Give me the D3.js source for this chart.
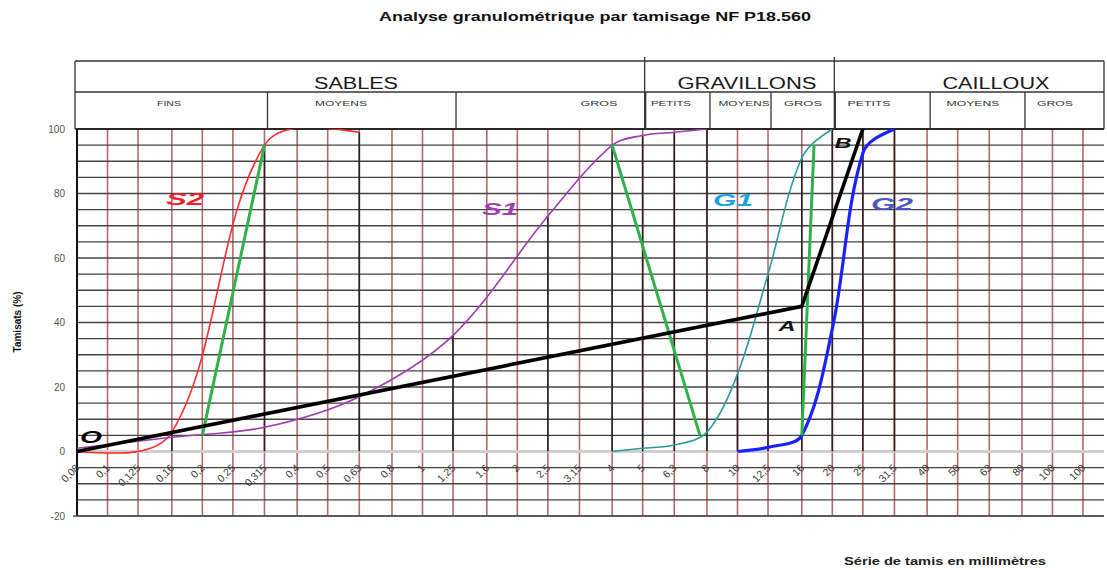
<!DOCTYPE html>
<html>
<head>
<meta charset="utf-8">
<script src="https://cdn.jsdelivr.net/npm/d3@7"></script>
<style>
  body { margin: 0; background: #fff; }
  svg { display: block; font-family: "Liberation Sans", Arial, sans-serif; }
</style>
</head>
<body>
<svg id="chart" width="1107" height="570"></svg>
<script>
// Sieve series (mm) and the labels printed under each sieve
const sieveSizes = [0.08, 0.1, 0.125, 0.16, 0.2, 0.25, 0.315, 0.4, 0.5, 0.63, 0.8, 1, 1.25, 1.6, 2, 2.5, 3.15, 4, 5, 6.3, 8, 10, 12.5, 16, 20, 25, 31.5, 40, 50, 63, 80, 100, 125];
const sieveLabels = ["0,08", "0,1", "0,125", "0,16", "0,2", "0,25", "0,315", "0,4", "0,5", "0,63", "0,8", "1", "1,25", "1,6", "2", "2,5", "3,15", "4", "5", "6,3", "8", "10", "12,5", "16", "20", "25", "31,5", "40", "50", "63", "80", "100", "100"];
const yTicks = [-20, 0, 20, 40, 60, 80, 100];

// Passing percentages (tamisats, %) per sieve for each aggregate
const sableS2 = [[0.08, 0], [0.16, 6], [0.315, 95], [0.63, 99]];
const sableS1 = [[0.08, 1], [0.16, 4.4], [0.315, 7.5], [0.63, 17], [1.25, 36], [2.5, 73], [4, 95], [5, 98], [6.3, 99], [8, 100]];
const gravierG1 = [[4, 0], [5, 1], [6.3, 2], [8, 6], [10, 24], [12.5, 55], [16, 91], [20, 100]];
const gravierG2 = [[10, 0], [12.5, 1.3], [16, 5], [20, 38], [25, 92.5], [31.5, 100]];

// Reference grading curve O - A - B
const referenceOAB = [[0.08, 0], [16, 45], [25, 100]];
// Dreux-Gorisse separation lines (95 % of one aggregate to 5 % of the next)
const separationLines = [
  [[0.2, 5], [0.315, 95]],
  [[4, 95], [7.6, 5]],
  [[16, 5], [17.5, 95]]
];

// Header classes: names and sieve limits (mm)
const classNames = ["SABLES", "GRAVILLONS", "CAILLOUX"];
const classLimits = [[0.08, 5], [5, 20], [20, 125]];
const subClassNames = ["FINS", "MOYENS", "GROS", "PETITS", "MOYENS", "GROS", "PETITS", "MOYENS", "GROS"];
const subClassLimits = [[0.08, 0.315], [0.315, 1.25], [1.25, 5], [5, 8], [8, 12.5], [12.5, 20], [20, 40], [40, 80], [80, 125]];

const svg = d3.select("#chart");
const plotLeft = 77, plotRight = 1104;
const x = d3.scaleLog().domain([sieveSizes[0], sieveSizes[sieveSizes.length - 1]]).range([77, 1083]);
const y = d3.scaleLinear().domain([-20, 100]).range([516, 129]);

// header box geometry
const headTop = 61, headMid = 92;
const hx = v => (v === 125 ? plotRight : x(v));

// ---------- grid ----------
const grid = svg.append("g");
grid.selectAll("line.v").data(sieveSizes).join("line")
  .attr("x1", d => x(d)).attr("x2", d => x(d))
  .attr("y1", y(100)).attr("y2", y(-20))
  .attr("stroke", "#b8686a").attr("stroke-width", 1.6);

grid.selectAll("line.h").data(d3.range(-20, 101, 5)).join("line")
  .attr("x1", plotLeft).attr("x2", plotRight)
  .attr("y1", d => y(d)).attr("y2", d => y(d))
  .attr("stroke", d => d === 0 ? "#cfcfcf" : "#444")
  .attr("stroke-width", d => d === 0 ? 3 : 1.4);

// drop lines from the highest passing value on each tested sieve
const allSeries = [sableS2, sableS1, gravierG1, gravierG2, referenceOAB];
const dropTop = d3.rollups(allSeries.flat(), v => d3.max(v, p => p[1]), p => p[0]);
grid.selectAll("line.drop").data(dropTop).join("line")
  .attr("x1", d => x(d[0])).attr("x2", d => x(d[0]))
  .attr("y1", y(0)).attr("y2", d => y(d[1]))
  .attr("stroke", "#2b2222").attr("stroke-width", 1.6);

// axes frame
grid.append("line").attr("x1", plotLeft).attr("x2", plotLeft).attr("y1", y(100)).attr("y2", y(-20))
  .attr("stroke", "#111").attr("stroke-width", 2);
grid.append("line").attr("x1", plotLeft - 2).attr("x2", plotRight).attr("y1", y(100)).attr("y2", y(100))
  .attr("stroke", "#111").attr("stroke-width", 1.6);
grid.append("line").attr("x1", plotLeft - 4).attr("x2", plotRight).attr("y1", y(-20)).attr("y2", y(-20))
  .attr("stroke", "#555").attr("stroke-width", 1.6);

// ---------- header ----------
const head = svg.append("g").attr("stroke", "#333").attr("stroke-width", 1.3);
head.append("line").attr("x1", 75).attr("x2", plotRight).attr("y1", headTop).attr("y2", headTop);
head.append("line").attr("x1", 75).attr("x2", plotRight).attr("y1", headMid).attr("y2", headMid);
head.append("line").attr("x1", 75).attr("x2", 75).attr("y1", headTop).attr("y2", y(100));
head.append("line").attr("x1", plotRight).attr("x2", plotRight).attr("y1", headTop).attr("y2", y(100));
head.selectAll("line.cls").data(classLimits.slice(1)).join("line")
  .attr("x1", d => hx(d[0]) + 2).attr("x2", d => hx(d[0]) + 2)
  .attr("y1", headTop - 4).attr("y2", y(100));
head.selectAll("line.sub").data(subClassLimits.slice(1)).join("line")
  .attr("x1", d => hx(d[0]) + 3).attr("x2", d => hx(d[0]) + 3)
  .attr("y1", headMid).attr("y2", y(100));

function stretchedText(g, str, cx, base, size, width, opts = {}) {
  return g.append("text")
    .attr("x", cx).attr("y", base)
    .attr("text-anchor", opts.anchor || "middle")
    .attr("font-size", size)
    .attr("font-weight", opts.weight || "normal")
    .attr("font-style", opts.style || "normal")
    .attr("fill", opts.fill || "#111")
    .attr("textLength", width)
    .attr("lengthAdjust", "spacingAndGlyphs")
    .text(str);
}

const headText = svg.append("g");
const classLayout = [{ cx: 356, w: 84 }, { cx: 747, w: 139 }, { cx: 996, w: 107 }];
classNames.forEach((n, i) => stretchedText(headText, n, classLayout[i].cx, 89, 16, classLayout[i].w, { fill: "#1a1a1a" }));
const subLayout = [{ cx: 169, w: 24 }, { cx: 341, w: 52 }, { cx: 599, w: 37 }, { cx: 671, w: 40 }, { cx: 744, w: 51 }, { cx: 803, w: 38 }, { cx: 869, w: 43 }, { cx: 973, w: 53 }, { cx: 1055, w: 36 }];
subClassNames.forEach((n, i) => stretchedText(headText, n, subLayout[i].cx, 106, 8, subLayout[i].w, { fill: "#333" }));

// title
stretchedText(svg, "Analyse granulométrique par tamisage NF P18.560", 595, 21, 12, 432, { weight: "bold" });

// ---------- axes labels ----------
const yAxis = svg.append("g");
yAxis.selectAll("text").data(yTicks).join("text")
  .attr("x", 65).attr("y", d => y(d)).attr("dy", "0.35em")
  .attr("text-anchor", "end").attr("font-size", 10).attr("fill", "#555")
  .text(d => d);

const xAxis = svg.append("g");
xAxis.selectAll("text").data(sieveSizes).join("text")
  .attr("transform", d => `translate(${x(d) + 3},${y(0) + 17}) rotate(-45)`)
  .attr("text-anchor", "end").attr("font-size", 10.5).attr("fill", "#3a3a3a")
  .text((d, i) => sieveLabels[i]);

svg.append("text")
  .attr("transform", `translate(21,322) rotate(-90)`)
  .attr("text-anchor", "middle").attr("font-size", 10).attr("font-weight", "bold").attr("fill", "#111")
  .text("Tamisats (%)");
stretchedText(svg, "Série de tamis en millimètres", 945, 565, 10, 202, { weight: "bold", fill: "#222" });

// ---------- curves ----------
// Smoothed line through the sieve points: Bezier handles along the neighbour
// chord, split in proportion to the adjacent segment lengths.
function smoothPath(data) {
  const p = data.map(d => [x(d[0]), y(d[1])]);
  const n = p.length;
  const path = d3.path();
  path.moveTo(p[0][0], p[0][1]);
  if (n < 3) { p.slice(1).forEach(q => path.lineTo(q[0], q[1])); return path.toString(); }
  const dist = (a, b) => Math.hypot(b[0] - a[0], b[1] - a[1]);
  const inC = new Array(n), outC = new Array(n);
  for (let i = 1; i < n - 1; i++) {
    const tx = p[i + 1][0] - p[i - 1][0], ty = p[i + 1][1] - p[i - 1][1];
    const dp = dist(p[i - 1], p[i]), dn = dist(p[i], p[i + 1]);
    const kp = dp / (dp + dn) / 3, kn = dn / (dp + dn) / 3;
    inC[i] = [p[i][0] - tx * kp, p[i][1] - ty * kp];
    outC[i] = [p[i][0] + tx * kn, p[i][1] + ty * kn];
  }
  outC[0] = [(p[0][0] + inC[1][0]) / 2, (p[0][1] + inC[1][1]) / 2];
  inC[n - 1] = [(p[n - 1][0] + outC[n - 2][0]) / 2, (p[n - 1][1] + outC[n - 2][1]) / 2];
  for (let i = 0; i < n - 1; i++) {
    path.bezierCurveTo(outC[i][0], outC[i][1], inC[i + 1][0], inC[i + 1][1], p[i + 1][0], p[i + 1][1]);
  }
  return path.toString();
}

svg.append("clipPath").attr("id", "plotClip").append("rect")
  .attr("x", plotLeft).attr("y", y(100)).attr("width", plotRight - plotLeft).attr("height", y(-20) - y(100));
const curves = svg.append("g").attr("clip-path", "url(#plotClip)");
const straight = d3.line().x(d => x(d[0])).y(d => y(d[1]));

const curveStyles = [
  { data: sableS2, color: "#ff2a2a", w: 1.6 },
  { data: sableS1, color: "#a03cb0", w: 1.6 },
  { data: gravierG1, color: "#2b9a9a", w: 1.6 },
  { data: gravierG2, color: "#1a22ff", w: 3.2 }
];
curves.selectAll("path.curve").data(curveStyles).join("path")
  .attr("d", d => smoothPath(d.data))
  .attr("fill", "none").attr("stroke", d => d.color).attr("stroke-width", d => d.w);

curves.selectAll("path.sep").data(separationLines).join("path")
  .attr("d", straight)
  .attr("fill", "none").attr("stroke", "#2fb24a").attr("stroke-width", 3);

svg.append("path").attr("d", straight(referenceOAB))
  .attr("fill", "none").attr("stroke", "#000").attr("stroke-width", 3.6)
  .attr("stroke-linejoin", "miter");

// ---------- curve names and points ----------
const names = svg.append("g");
const nameStyle = { weight: "bold", style: "italic" };
stretchedText(names, "S2", 185, 205, 17, 38, { ...nameStyle, fill: "#e8232b" });
stretchedText(names, "S1", 500, 215, 17, 36, { ...nameStyle, fill: "#a23cb4" });
stretchedText(names, "G1", 733, 206, 17, 40, { ...nameStyle, fill: "#1ea2e2" });
stretchedText(names, "G2", 892, 210, 17, 42, { ...nameStyle, fill: "#4a56c8" });
stretchedText(names, "O", 91, 443, 17, 22, { ...nameStyle, fill: "#000" });
stretchedText(names, "A", 787, 331, 15, 17, { ...nameStyle, fill: "#111" });
stretchedText(names, "B", 843, 148, 15, 17, { ...nameStyle, fill: "#111" });
</script>
</body>
</html>
